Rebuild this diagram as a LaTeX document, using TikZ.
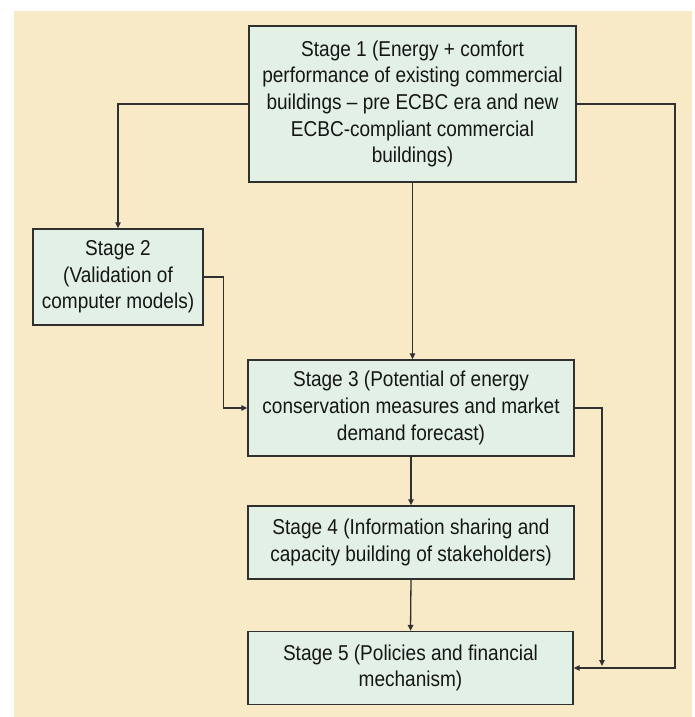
\documentclass[tikz,border=0pt]{standalone}
\usepackage{fontspec}
\setmainfont{Liberation Sans}[FakeStretch=0.885]
\usetikzlibrary{arrows.meta}
\definecolor{bgbeige}{HTML}{F8E9C7}
\definecolor{boxfill}{HTML}{E2F0E5}
\definecolor{boxline}{HTML}{303030}
\definecolor{txt}{HTML}{161616}
\tikzset{
  stagebox/.style={draw=boxline, line width=1.4pt, fill=boxfill, text=txt,
    align=center, inner sep=0pt, font=\fontsize{21.5}{26.7}\selectfont},
  conn/.style={draw=boxline, line width=1.3pt, -{Triangle[length=6pt,width=5.5pt]}},
}
\begin{document}
\begin{tikzpicture}[x=1pt,y=-1pt]
\useasboundingbox (0,0) rectangle (694,717);
\fill[bgbeige] (14,11) rectangle (692,717);
\node[stagebox, minimum width=327pt, minimum height=156pt] (s1) at (412.5,104)
  {Stage 1 (Energy + comfort\\performance of existing commercial\\buildings -- pre ECBC era and new\\ECBC-compliant commercial\\buildings)};
\node[stagebox, minimum width=170pt, minimum height=96pt] (s2) at (118,277)
  {Stage 2\\(Validation of\\computer models)};
\node[stagebox, minimum width=326pt, minimum height=96pt] (s3) at (411,408)
  {Stage 3 (Potential of energy\\conservation measures and market\\demand forecast)};
\node[stagebox, minimum width=326pt, minimum height=73pt] (s4) at (411,542.5)
  {Stage 4 (Information sharing and\\capacity building of stakeholders)};
\node[stagebox, minimum width=325pt, minimum height=73pt] (s5) at (410.5,668)
  {Stage 5 (Policies and financial\\mechanism)};
\coordinate (rr) at (675,668);
\coordinate (mm) at (602,666);
\draw[conn] (s1.west) -| (s2.north);
\draw[conn] (s1.east) -| (rr) -- (s5.east);
\draw[conn] (s1.south) -- (s1.south |- s3.north);
\draw[conn] (s2.east) -- ++(20,0) |- (s3.west);
\draw[conn] (s3.east) -| (mm);
\draw[conn] (s3.south) -- (s4.north);
\draw[conn] (s4.south) -- (s5.north);
\end{tikzpicture}
\end{document}
